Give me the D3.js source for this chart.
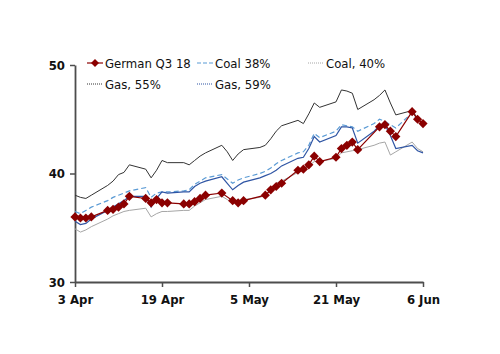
<!DOCTYPE html>
<html><head><meta charset="utf-8">
<script src="https://cdn.jsdelivr.net/npm/d3@7"></script>
<style>body{margin:0;background:#fff}svg{display:block}</style>
</head><body><svg id="c" width="500" height="354"></svg>
<script>
const dates = ["2018-04-03","2018-04-04","2018-04-05","2018-04-06","2018-04-09","2018-04-10","2018-04-11","2018-04-12","2018-04-13",
"2018-04-16","2018-04-17","2018-04-18","2018-04-19","2018-04-20","2018-04-23","2018-04-24","2018-04-25","2018-04-26","2018-04-27",
"2018-04-30","2018-05-01","2018-05-02","2018-05-03","2018-05-04","2018-05-07","2018-05-08","2018-05-09","2018-05-10","2018-05-11",
"2018-05-14","2018-05-15","2018-05-16","2018-05-17","2018-05-18","2018-05-21","2018-05-22","2018-05-23","2018-05-24","2018-05-25",
"2018-05-28","2018-05-29","2018-05-30","2018-05-31","2018-06-01","2018-06-04","2018-06-05","2018-06-06"];
const german = [36.0,35.9,35.9,36.0, 36.6,36.7,36.9,37.2,37.9, 37.7,37.3,37.6,37.3,37.3, 37.2,37.2,37.4,37.7,38.0,
 38.2,null,37.5,37.3,37.5, null,38.0,38.5,38.8,39.1, 40.3,40.4,40.8,41.6,41.1, 41.5,42.3,42.6,42.9,42.2,
 null,44.3,44.5,43.9,43.4, 45.7,45.0,44.6];
const coal38 = [36.5,36.3,36.6,36.9, 37.5,37.8,38.0,38.2,38.4, 38.7,37.8,38.2,38.3,38.3, 38.4,38.5,39.0,39.3,39.6,
 39.9,39.5,39.1,39.4,39.6, 40.0,40.2,40.5,40.9,41.2, 41.9,42.0,42.6,43.7,43.3, 43.9,44.5,44.4,44.3,43.9,
 44.6,45.0,44.8,44.5,44.2, 45.6,44.8,44.3];
const coal40 = [34.9,34.6,34.8,35.1, 35.8,36.1,36.3,36.5,36.6, 36.8,36.0,36.3,36.5,36.5, 36.6,36.6,37.0,37.3,37.6,
 37.9,37.6,37.3,37.4,37.6, 37.8,38.0,38.4,39.1,39.3, 40.1,40.3,40.7,41.1,41.1, 41.4,41.9,42.0,42.1,42.2,
 42.6,42.8,42.9,41.7,42.0, 42.9,42.3,42.0];
const gas55 = [38.0,37.8,37.7,38.0, 38.9,39.3,39.9,40.1,40.8, 40.4,39.6,40.3,41.2,41.0, 41.0,40.8,41.2,41.6,41.9,
 42.6,42.0,41.2,41.8,42.2, 42.4,42.6,43.2,43.9,44.4, 44.9,44.6,45.5,46.5,46.1, 46.6,47.7,47.6,47.4,45.9,
 46.8,47.2,47.7,46.5,45.4, 45.8,45.1,44.5];
const gas59 = [35.6,35.3,35.4,35.8, 36.6,36.9,37.2,37.5,37.9, 37.9,36.9,37.7,38.3,38.2, 38.3,38.3,38.8,39.1,39.3,
 39.7,39.1,38.5,38.9,39.2, 39.6,39.8,40.0,40.3,40.7, 41.4,41.5,42.3,43.4,42.9, 43.5,44.3,44.3,44.2,42.8,
 43.9,44.4,44.5,43.5,42.3, 42.6,42.1,41.9];
const xTickLabels = ["2018-04-03","2018-04-19","2018-05-05","2018-05-21","2018-06-06"];
const yTicks = [30,40,50];
const seriesNames = ["German Q3 18","Coal 38%","Coal, 40%","Gas, 55%","Gas, 59%"];

const parse = d3.timeParse("%Y-%m-%d");
const svg = d3.select("#c");
const FONT = "DejaVu Sans Condensed, DejaVu Sans, sans-serif";
const x = d3.scaleTime().domain([parse("2018-04-03"), parse("2018-06-06")]).range([75, 423]);
const y = d3.scaleLinear().domain([30, 50]).range([282, 65]);

const styles = {
  "German Q3 18": {color:"#8b0000", width:1.2, dash:null},
  "Coal 38%": {color:"#5b9bd5", width:1.2, dash:"5,3"},
  "Coal, 40%": {color:"#a6a6a6", width:1, dash:null},
  "Gas, 55%": {color:"#333333", width:1, dash:null},
  "Gas, 59%": {color:"#2f55a4", width:1.2, dash:null}
};
const seriesData = {"German Q3 18":german,"Coal 38%":coal38,"Coal, 40%":coal40,"Gas, 55%":gas55,"Gas, 59%":gas59};

// axes
const yAxis = d3.axisLeft(y).tickValues(yTicks).tickSize(5).tickSizeOuter(0);
const gy = svg.append("g").attr("transform","translate(75,0)").call(yAxis);
const xAxis = d3.axisBottom(x).tickValues(xTickLabels.map(parse)).tickSize(5).tickSizeOuter(0).tickFormat(d3.timeFormat("%-d %b"));
const gx = svg.append("g").attr("transform","translate(0,282)").call(xAxis);
[gx, gy].forEach(g => {
  g.select(".domain").attr("stroke","#4d4d4d").attr("stroke-width",1.8);
  g.selectAll(".tick line").attr("stroke","#4d4d4d").attr("stroke-width",1.5);
  g.selectAll("text").attr("font-family",FONT).attr("font-size",13).attr("font-weight","bold").attr("fill","#111");
});
gy.selectAll("text").attr("x",-10);
gx.selectAll("text").attr("dy","1.1em");

const order = ["Coal, 40%","Gas, 55%","Coal 38%","Gas, 59%","German Q3 18"];
order.forEach(name => {
  const vals = seriesData[name];
  const pts = dates.map((d,i)=>({d:parse(d), v:vals[i]})).filter(p=>p.v!==null);
  const st = styles[name];
  svg.append("path").datum(pts)
    .attr("fill","none").attr("stroke",st.color).attr("stroke-width",st.width)
    .attr("stroke-dasharray",st.dash)
    .attr("d", d3.line().x(p=>x(p.d)).y(p=>y(p.v)));
  if (name==="German Q3 18") {
    svg.append("g").selectAll("path").data(pts).join("path")
      .attr("transform",p=>`translate(${x(p.d)},${y(p.v)})`)
      .attr("d","M0,-4.6L4.6,0L0,4.6L-4.6,0Z")
      .attr("fill",st.color);
  }
});

// legend
const legendItems = [
  {name:"German Q3 18", x:87, y:63},
  {name:"Coal 38%", x:197, y:63},
  {name:"Coal, 40%", x:308, y:63},
  {name:"Gas, 55%", x:87, y:84},
  {name:"Gas, 59%", x:197, y:84}
];
const lg = svg.append("g");
legendItems.forEach(it => {
  const st = styles[it.name];
  lg.append("line").attr("x1",it.x).attr("x2",it.x+16).attr("y1",it.y).attr("y2",it.y)
    .attr("stroke",st.color).attr("stroke-width",st.width)
    .attr("stroke-dasharray", it.name==="Coal 38%" ? "4,2" : (it.name==="German Q3 18" ? null : "1,1"));
  if (it.name==="German Q3 18") {
    lg.append("path").attr("transform",`translate(${it.x+8},${it.y})`)
      .attr("d","M0,-4L4,0L0,4L-4,0Z").attr("fill",st.color);
  }
  lg.append("text").attr("x",it.x+18).attr("y",it.y).attr("dy","0.36em")
    .attr("font-family",FONT).attr("font-size",13).attr("fill","#111").text(it.name);
});
</script></body></html>
